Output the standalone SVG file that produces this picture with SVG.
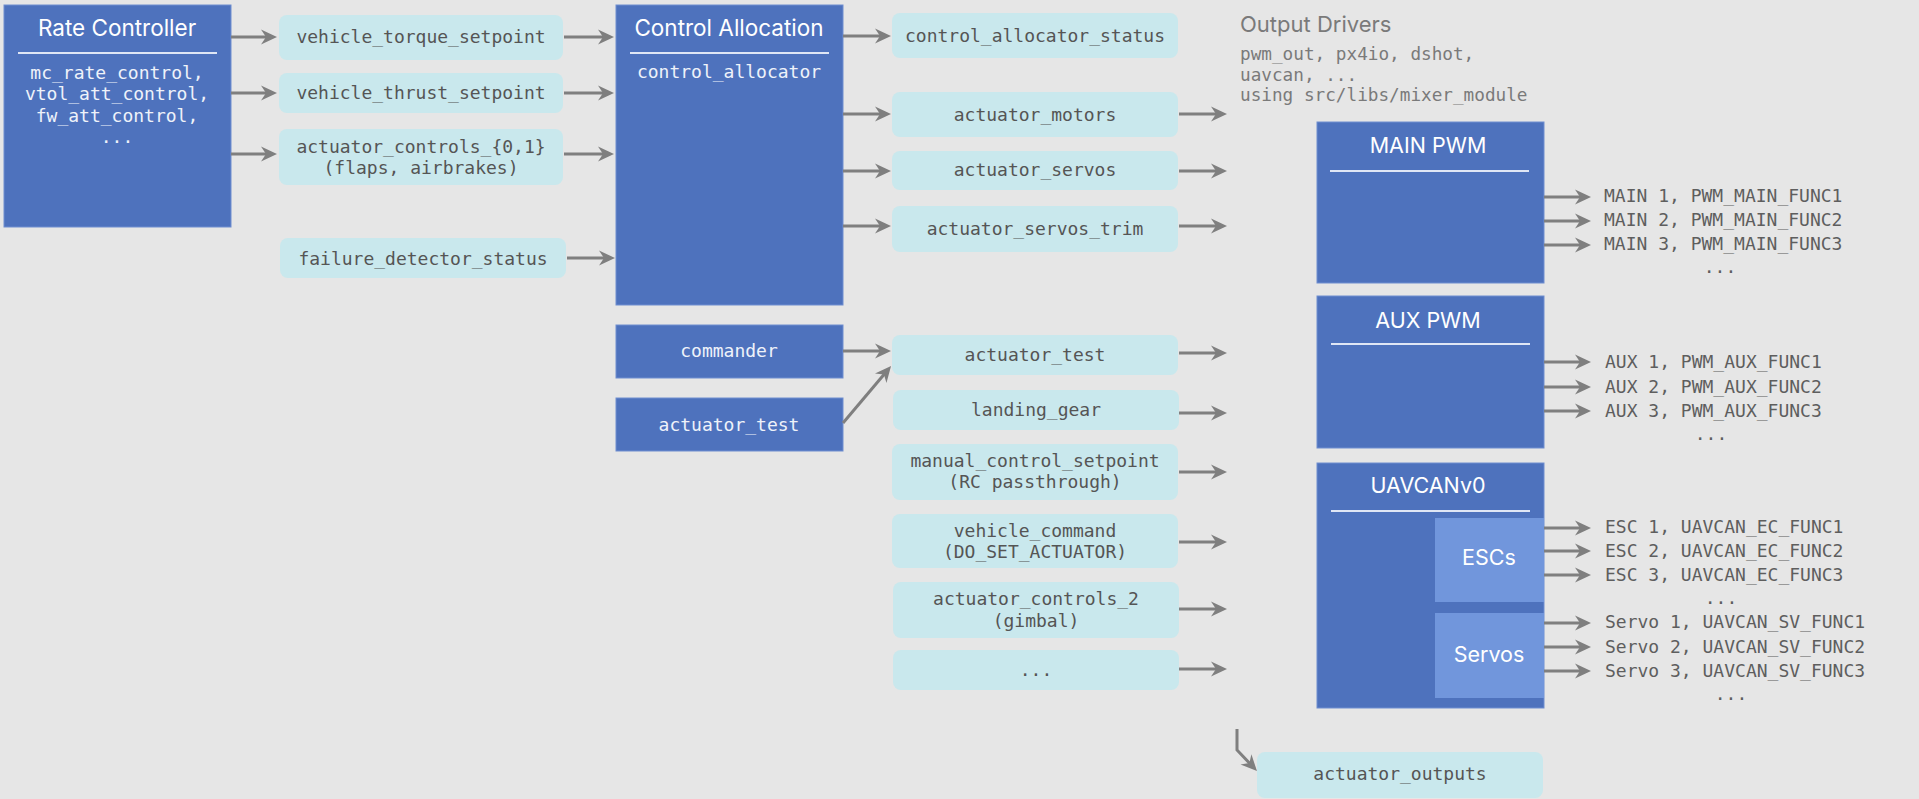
<svg xmlns="http://www.w3.org/2000/svg" width="1919" height="799" viewBox="0 0 1919 799">
<defs>
<marker id="ah" markerUnits="userSpaceOnUse" markerWidth="17" markerHeight="16" refX="6" refY="7.5" orient="auto" overflow="visible">
<path d="M0,0 L16,7.5 L0,15 L5,7.5 Z" fill="#7f7f7f"/>
</marker>
<style>
.blue{fill:#4e72bd;stroke:#6f8ed0;stroke-width:1}
.sub{fill:#7196dc;stroke:none}
.cyan{fill:#c9e8ed}
.title{font-family:Inter,"Liberation Sans",sans-serif;font-size:22.5px;fill:#ffffff;text-anchor:middle}
.sep{stroke:#dfe6f5;stroke-width:2}
.wm{font-family:"DejaVu Sans Mono","Liberation Mono",monospace;font-size:18px;fill:#eef2fa;text-anchor:middle}
.gm{font-family:"DejaVu Sans Mono","Liberation Mono",monospace;font-size:18px;fill:#555555;text-anchor:middle}
.om{font-family:"DejaVu Sans Mono","Liberation Mono",monospace;font-size:18px;fill:#5e5e5e}
.dm{font-family:"DejaVu Sans Mono","Liberation Mono",monospace;font-size:17.7px;fill:#7a7a7a}
.head{font-family:Inter,"Liberation Sans",sans-serif;font-size:22px;fill:#7a7a7a}
.lbl{font-family:Inter,"Liberation Sans",sans-serif;font-size:21.5px;fill:#ffffff;text-anchor:middle}
.c{stroke:#7f7f7f;stroke-width:3;fill:none;marker-end:url(#ah)}
</style>
</defs>
<rect x="0" y="0" width="1919" height="799" fill="#e6e6e6"/>

<g id="rate-controller">
<rect class="blue" x="4" y="5" width="227" height="222"/>
<text class="title" x="117" y="36">Rate Controller</text>
<line class="sep" x1="18" y1="53" x2="217" y2="53"/>
<text class="wm" x="117" y="79">mc_rate_control,</text>
<text class="wm" x="117" y="100">vtol_att_control,</text>
<text class="wm" x="117" y="122">fw_att_control,</text>
<text class="wm" x="117" y="143">...</text>
</g>

<g id="control-allocation">
<rect class="blue" x="616" y="5" width="227" height="300"/>
<text class="title" x="729" y="36">Control Allocation</text>
<line class="sep" x1="630" y1="53" x2="829" y2="53"/>
<text class="wm" x="729" y="78">control_allocator</text>
</g>

<g id="commander">
<rect class="blue" x="616" y="325" width="227" height="53"/>
<text class="wm" x="729" y="357">commander</text>
</g>

<g id="actuator-test-module">
<rect class="blue" x="616" y="398" width="227" height="53"/>
<text class="wm" x="729" y="431">actuator_test</text>
</g>

<g id="vehicle-torque-setpoint">
<rect class="cyan" x="279" y="15" width="284" height="45" rx="8"/>
<text class="gm" x="421" y="43">vehicle_torque_setpoint</text>
</g>
<g id="vehicle-thrust-setpoint">
<rect class="cyan" x="279" y="73" width="284" height="40" rx="8"/>
<text class="gm" x="421" y="99">vehicle_thrust_setpoint</text>
</g>
<g id="actuator-controls-01">
<rect class="cyan" x="279" y="129" width="284" height="56" rx="8"/>
<text class="gm" x="421" y="153">actuator_controls_{0,1}</text>
<text class="gm" x="421" y="174">(flaps, airbrakes)</text>
</g>
<g id="failure-detector-status">
<rect class="cyan" x="280" y="238" width="286" height="40" rx="8"/>
<text class="gm" x="423" y="265">failure_detector_status</text>
</g>

<g id="control-allocator-status">
<rect class="cyan" x="892" y="13" width="286" height="45" rx="8"/>
<text class="gm" x="1035" y="42">control_allocator_status</text>
</g>
<g id="actuator-motors">
<rect class="cyan" x="892" y="92" width="286" height="45" rx="8"/>
<text class="gm" x="1035" y="121">actuator_motors</text>
</g>
<g id="actuator-servos">
<rect class="cyan" x="892" y="151" width="286" height="39" rx="8"/>
<text class="gm" x="1035" y="176">actuator_servos</text>
</g>
<g id="actuator-servos-trim">
<rect class="cyan" x="892" y="206" width="286" height="46" rx="8"/>
<text class="gm" x="1035" y="235">actuator_servos_trim</text>
</g>
<g id="actuator-test">
<rect class="cyan" x="892" y="335" width="286" height="40" rx="8"/>
<text class="gm" x="1035" y="361">actuator_test</text>
</g>
<g id="landing-gear">
<rect class="cyan" x="893" y="390" width="286" height="40" rx="8"/>
<text class="gm" x="1036" y="416">landing_gear</text>
</g>
<g id="manual-control-setpoint">
<rect class="cyan" x="892" y="444" width="286" height="56" rx="8"/>
<text class="gm" x="1035" y="467">manual_control_setpoint</text>
<text class="gm" x="1035" y="488">(RC passthrough)</text>
</g>
<g id="vehicle-command">
<rect class="cyan" x="892" y="514" width="286" height="54" rx="8"/>
<text class="gm" x="1035" y="537">vehicle_command</text>
<text class="gm" x="1035" y="558">(DO_SET_ACTUATOR)</text>
</g>
<g id="actuator-controls-2">
<rect class="cyan" x="893" y="582" width="286" height="56" rx="8"/>
<text class="gm" x="1036" y="605">actuator_controls_2</text>
<text class="gm" x="1036" y="627">(gimbal)</text>
</g>
<g id="more-topics">
<rect class="cyan" x="893" y="650" width="286" height="40" rx="8"/>
<text class="gm" x="1036" y="676">...</text>
</g>

<g id="output-drivers-label">
<text class="head" x="1240" y="32">Output Drivers</text>
<text class="dm" x="1240" y="60">pwm_out, px4io, dshot,</text>
<text class="dm" x="1240" y="81">uavcan, ...</text>
<text class="dm" x="1240" y="101">using src/libs/mixer_module</text>
</g>

<g id="main-pwm">
<rect class="blue" x="1317" y="122" width="227" height="161"/>
<text class="lbl" x="1428" y="153">MAIN PWM</text>
<line class="sep" x1="1330" y1="171" x2="1529" y2="171"/>
<text class="om" x="1604" y="202">MAIN 1, PWM_MAIN_FUNC1</text>
<text class="om" x="1604" y="226">MAIN 2, PWM_MAIN_FUNC2</text>
<text class="om" x="1604" y="250">MAIN 3, PWM_MAIN_FUNC3</text>
<text class="om" x="1720" y="273" text-anchor="middle">...</text>
</g>

<g id="aux-pwm">
<rect class="blue" x="1317" y="296" width="227" height="152"/>
<text class="lbl" x="1428" y="328">AUX PWM</text>
<line class="sep" x1="1331" y1="344" x2="1530" y2="344"/>
<text class="om" x="1605" y="368">AUX 1, PWM_AUX_FUNC1</text>
<text class="om" x="1605" y="393">AUX 2, PWM_AUX_FUNC2</text>
<text class="om" x="1605" y="417">AUX 3, PWM_AUX_FUNC3</text>
<text class="om" x="1711" y="440" text-anchor="middle">...</text>
</g>

<g id="uavcan-v0">
<rect class="blue" x="1317" y="463" width="227" height="245"/>
<text class="lbl" x="1428" y="493">UAVCANv0</text>
<line class="sep" x1="1331" y1="511" x2="1530" y2="511"/>
<rect class="sub" x="1435" y="518" width="109" height="84"/>
<text class="lbl" x="1489" y="565" font-size="19">ESCs</text>
<rect class="sub" x="1435" y="613" width="109" height="85"/>
<text class="lbl" x="1489" y="662" font-size="19">Servos</text>
<text class="om" x="1605" y="533">ESC 1, UAVCAN_EC_FUNC1</text>
<text class="om" x="1605" y="557">ESC 2, UAVCAN_EC_FUNC2</text>
<text class="om" x="1605" y="581">ESC 3, UAVCAN_EC_FUNC3</text>
<text class="om" x="1721" y="604" text-anchor="middle">...</text>
<text class="om" x="1605" y="628">Servo 1, UAVCAN_SV_FUNC1</text>
<text class="om" x="1605" y="653">Servo 2, UAVCAN_SV_FUNC2</text>
<text class="om" x="1605" y="677">Servo 3, UAVCAN_SV_FUNC3</text>
<text class="om" x="1731" y="700" text-anchor="middle">...</text>
</g>

<g id="actuator-outputs">
<rect class="cyan" x="1257" y="752" width="286" height="46" rx="8"/>
<text class="gm" x="1400" y="780">actuator_outputs</text>
</g>

<g id="connectors">
<line class="c" x1="231" y1="37" x2="267" y2="37"/>
<line class="c" x1="231" y1="93" x2="267" y2="93"/>
<line class="c" x1="231" y1="154" x2="267" y2="154"/>
<line class="c" x1="564" y1="37" x2="604" y2="37"/>
<line class="c" x1="564" y1="93" x2="604" y2="93"/>
<line class="c" x1="564" y1="154" x2="604" y2="154"/>
<line class="c" x1="567" y1="258" x2="605" y2="258"/>
<line class="c" x1="843" y1="36" x2="881" y2="36"/>
<line class="c" x1="843" y1="114" x2="881" y2="114"/>
<line class="c" x1="843" y1="171" x2="881" y2="171"/>
<line class="c" x1="843" y1="226" x2="881" y2="226"/>
<line class="c" x1="843" y1="351" x2="881" y2="351"/>
<line class="c" x1="843" y1="423" x2="884.6" y2="373.7"/>
<line class="c" x1="1179" y1="114" x2="1217" y2="114"/>
<line class="c" x1="1179" y1="171" x2="1217" y2="171"/>
<line class="c" x1="1179" y1="226" x2="1217" y2="226"/>
<line class="c" x1="1179" y1="353" x2="1217" y2="353"/>
<line class="c" x1="1179" y1="413" x2="1217" y2="413"/>
<line class="c" x1="1179" y1="472" x2="1217" y2="472"/>
<line class="c" x1="1179" y1="542" x2="1217" y2="542"/>
<line class="c" x1="1179" y1="609" x2="1217" y2="609"/>
<line class="c" x1="1179" y1="669" x2="1217" y2="669"/>
<line class="c" x1="1544" y1="197" x2="1581" y2="197"/>
<line class="c" x1="1544" y1="221" x2="1581" y2="221"/>
<line class="c" x1="1544" y1="245" x2="1581" y2="245"/>
<line class="c" x1="1544" y1="362" x2="1581" y2="362"/>
<line class="c" x1="1544" y1="387" x2="1581" y2="387"/>
<line class="c" x1="1544" y1="411" x2="1581" y2="411"/>
<line class="c" x1="1544" y1="528" x2="1581" y2="528"/>
<line class="c" x1="1544" y1="551" x2="1581" y2="551"/>
<line class="c" x1="1544" y1="575" x2="1581" y2="575"/>
<line class="c" x1="1544" y1="623" x2="1581" y2="623"/>
<line class="c" x1="1544" y1="647" x2="1581" y2="647"/>
<line class="c" x1="1544" y1="671" x2="1581" y2="671"/>
<polyline class="c" points="1237,729 1237,750 1250.1,763.8"/>
</g>
</svg>
